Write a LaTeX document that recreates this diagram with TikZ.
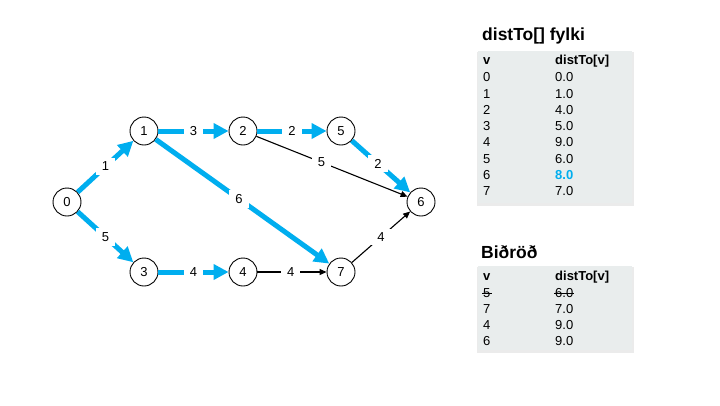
\documentclass[tikz,border=0pt]{standalone}
\usepackage{fontspec}
\setmainfont{Liberation Sans}
\usetikzlibrary{arrows.meta}
\definecolor{hl}{HTML}{00AEEF}
\definecolor{tbl}{HTML}{E9EDED}
\begin{document}
\begin{tikzpicture}[x=1pt,y=-1pt,
  vtx/.style={circle,draw,line width=0.9pt,minimum size=28pt,inner sep=0pt,fill=white,font=\fontsize{13}{13}\selectfont},
  hledge/.style={draw=hl,line width=5pt,-{Triangle[length=15pt,width=15pt]}},
  bkedge/.style={draw=black,line width=1.1pt,-{Triangle[length=7pt,width=6pt]}},
  elab/.style={fill=white,inner xsep=6pt,inner ysep=4pt,font=\fontsize{13}{13}\selectfont},
  ttl/.style={anchor=west,font=\fontsize{17.5}{17.5}\selectfont\bfseries,inner sep=0pt},
  cell/.style={anchor=west,font=\fontsize{13}{13}\selectfont,inner sep=0pt},
  hcell/.style={anchor=west,font=\fontsize{13}{13}\selectfont\bfseries,inner sep=0pt},
  tblbox/.style={fill=tbl,draw=none},
  tblshadow/.style={fill=black,opacity=0.08,draw=none}
]
\path[use as bounding box,fill=white] (0,0) rectangle (720,405);

% graph nodes
\node[vtx] (n0) at (67,202) {0};
\node[vtx] (n1) at (144,131) {1};
\node[vtx] (n2) at (243,131) {2};
\node[vtx] (n5) at (341,131) {5};
\node[vtx] (n6) at (421,202) {6};
\node[vtx] (n3) at (144,272) {3};
\node[vtx] (n4) at (243,272) {4};
\node[vtx] (n7) at (341,272) {7};

% edges
\draw[hledge] (n0) -- node[elab] {1} (n1);
\draw[hledge] (n0) -- node[elab] {5} (n3);
\draw[hledge] (n1) -- node[elab] {3} (n2);
\draw[hledge] (n1) -- node[elab,pos=0.48] {6} (n7);
\draw[hledge] (n3) -- node[elab] {4} (n4);
\draw[hledge] (n2) -- node[elab] {2} (n5);
\draw[hledge] (n5) -- node[elab,pos=0.45] {2} (n6);
\draw[bkedge] (n2) -- node[elab,pos=0.43] {5} (n6);
\draw[bkedge] (n4) -- node[elab,pos=0.48] {4} (n7);
\draw[bkedge] (n7) -- node[elab] {4} (n6);

% table 1
\node[ttl] (t1) at (482,36) {distTo[] fylki};
\fill[tblshadow] (477,52) rectangle (634,206);
\fill[tblbox] (478,51) rectangle (632,203);
\node[hcell] (h1a) at (483,61) {v};
\node[hcell] (h1b) at (555,61) {distTo[v]};
\node[cell] (r0a) at (483,77.3) {0};   \node[cell] (r0b) at (555,77.3) {0.0};
\node[cell] (r1a) at (483,93.6) {1};   \node[cell] (r1b) at (555,93.6) {1.0};
\node[cell] (r2a) at (483,109.9) {2};  \node[cell] (r2b) at (555,109.9) {4.0};
\node[cell] (r3a) at (483,126.2) {3};  \node[cell] (r3b) at (555,126.2) {5.0};
\node[cell] (r4a) at (483,142.5) {4};  \node[cell] (r4b) at (555,142.5) {9.0};
\node[cell] (r5a) at (483,158.8) {5};  \node[cell] (r5b) at (555,158.8) {6.0};
\node[cell] (r6a) at (483,175.1) {6};  \node[cell,text=hl,font=\fontsize{13}{13}\selectfont\bfseries] (r6b) at (555,175.1) {8.0};
\node[cell] (r7a) at (483,191.4) {7};  \node[cell] (r7b) at (555,191.4) {7.0};

% table 2
\node[ttl] (t2) at (481,252) {Biðröð};
\fill[tblshadow] (477,267) rectangle (634,353);
\fill[tblbox] (478,266) rectangle (632,350);
\node[hcell] (h2a) at (483,277) {v};
\node[hcell] (h2b) at (555,277) {distTo[v]};
\node[cell] (q0a) at (483,293) {5};  \node[cell] (q0b) at (555,293) {6.0};
\node[cell] (q1a) at (483,309) {7};  \node[cell] (q1b) at (555,309) {7.0};
\node[cell] (q2a) at (483,325) {4};  \node[cell] (q2b) at (555,325) {9.0};
\node[cell] (q3a) at (483,341) {6};  \node[cell] (q3b) at (555,341) {9.0};
\draw[line width=0.9pt] ([xshift=-1pt]q0a.west) -- ([xshift=1pt]q0a.east);
\draw[line width=0.9pt] ([xshift=-1pt]q0b.west) -- ([xshift=1pt]q0b.east);
\end{tikzpicture}
\end{document}
